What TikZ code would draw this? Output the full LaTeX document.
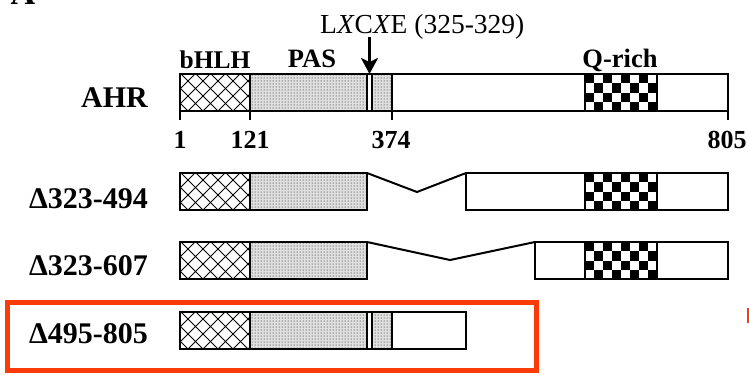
\documentclass[tikz,border=0pt]{standalone}
\usepackage{fontspec}
\setmainfont{Liberation Serif}
\usetikzlibrary{patterns,arrows.meta,calc}
\definecolor{selred}{RGB}{250,60,10}

\tikzset{
  seg/.style={draw, line width=2pt, minimum height=37pt, inner sep=0pt, outer sep=0pt, anchor=north west},
  hlh/.style={seg, path picture={
      \foreach \k in {-3,...,8}{
        \draw[line width=.9pt] ($(path picture bounding box.south west)+(\k*15-7,0)$) -- ++(40,-40);
        \draw[line width=.9pt] ($(path picture bounding box.south west)+(\k*15-7,0)$) -- ++(-40,-40);
      }}},
  pas/.style={seg, preaction={fill=black!12}, pattern=dots},
  plain/.style={seg},
  qrich/.style={seg, path picture={
      \foreach \c in {0,...,7}{\foreach \r in {0,...,3}{
        \pgfmathtruncatemacro{\chk}{mod(\c+\r,2)}
        \ifnum\chk=0 \fill ($(path picture bounding box.north west)+(\c*9,\r*9.25)$) rectangle ++(9,9.25);\fi
      }}}},
  rowlbl/.style={font=\fontsize{30}{30}\selectfont\bfseries, anchor=base east, inner sep=0pt},
  domlbl/.style={font=\fontsize{25.5}{26}\selectfont\bfseries, anchor=base, inner sep=0pt},
  num/.style={font=\fontsize{26}{26}\selectfont\bfseries, anchor=base, inner sep=0pt},
  delline/.style={line width=2pt},
  tick/.style={line width=2pt}
}

\begin{document}
\begin{tikzpicture}[x=1pt,y=-1pt]
  \useasboundingbox (0,0) rectangle (749,378);
  % panel letter (cut off at the top)
  \node[font=\fontsize{34}{34}\selectfont\bfseries, anchor=base, inner sep=0pt] (panA) at (23,4) {A};

  % full length AHR
  \node[rowlbl] (lblAHR) at (148,107) {AHR};
  \node[hlh, minimum width=70pt] (hlhA) at (180,74) {};
  \node[pas, minimum width=117pt] (pasA) at (250,74) {};
  \node[plain, minimum width=5pt] (motA) at (367,74) {};
  \node[pas, minimum width=20pt] (pasbA) at (372,74) {};
  \node[plain, minimum width=193pt] (midA) at (392,74) {};
  \node[qrich, minimum width=72pt] (qA) at (585,74) {};
  \node[plain, minimum width=71pt] (endA) at (657,74) {};
  \node[domlbl] (lblhlh) at (215,68) {bHLH};
  \node[domlbl, font=\fontsize{26.5}{27}\selectfont\bfseries] (lblpas) at (312,67) {PAS};
  \node[domlbl, font=\fontsize{26.5}{27}\selectfont\bfseries] (lblq) at (620,67) {Q-rich};
  \node[anchor=base west, inner sep=0pt, font=\fontsize{27.5}{28}\selectfont] (motif) at (320,33) {L\textit{X}C\textit{X}E (325-329)};
  \draw[line width=2.5pt, -{Stealth[length=16pt,width=17pt,inset=4pt]}] (motA.north |- 0,37) -- (motA.north);
  % ticks and positions
  \draw[tick] (hlhA.south west) -- ++(0,9);
  \draw[tick] (hlhA.south east) -- ++(0,9);
  \draw[tick] (pasbA.south east) -- ++(0,9);
  \draw[tick] (endA.south east) -- ++(0,9);
  \node[num] (n1) at (180,148) {1};
  \node[num] (n121) at (250,148) {121};
  \node[num] (n374) at (391,148) {374};
  \node[num] (n805) at (727,148) {805};

  % delta 323-494
  \node[rowlbl] (lblB) at (148,208) {Δ323-494};
  \node[hlh, minimum width=70pt] (hlhB) at (180,173) {};
  \node[pas, minimum width=117pt] (pasB) at (250,173) {};
  \node[plain, minimum width=119pt] (wB) at (466,173) {};
  \node[qrich, minimum width=72pt] (qB) at (585,173) {};
  \node[plain, minimum width=71pt] (endB) at (657,173) {};
  \coordinate (kB) at (417,192);
  \draw[delline] (pasB.north east) -- (kB) -- (wB.north west);

  % delta 323-607
  \node[rowlbl] (lblC) at (148,275) {Δ323-607};
  \node[hlh, minimum width=70pt] (hlhC) at (180,242) {};
  \node[pas, minimum width=117pt] (pasC) at (250,242) {};
  \node[plain, minimum width=50pt] (wC) at (535,242) {};
  \node[qrich, minimum width=72pt] (qC) at (585,242) {};
  \node[plain, minimum width=71pt] (endC) at (657,242) {};
  \coordinate (kC) at (450,260);
  \draw[delline] (pasC.north east) -- (kC) -- (wC.north west);

  % delta 495-805
  \node[rowlbl] (lblD) at (148,343) {Δ495-805};
  \node[hlh, minimum width=70pt] (hlhD) at (180,312) {};
  \node[pas, minimum width=117pt] (pasD) at (250,312) {};
  \node[plain, minimum width=5pt] (motD) at (367,312) {};
  \node[pas, minimum width=20pt] (pasbD) at (372,312) {};
  \node[plain, minimum width=74pt] (endD) at (392,312) {};
  \draw[selred, line width=5pt] (7,302) rectangle (536,370);
  \draw[selred, line width=2.5pt] (748,308) -- (748,323);
\end{tikzpicture}
\end{document}
